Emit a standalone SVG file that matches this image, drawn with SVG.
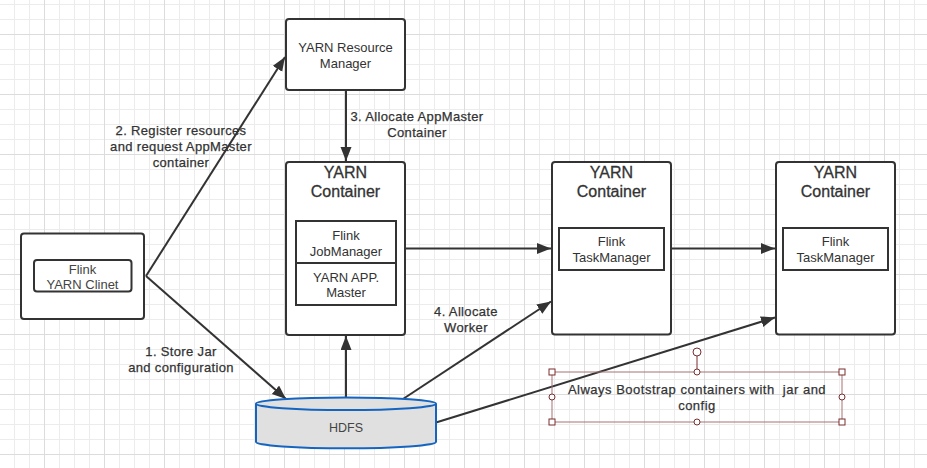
<svg xmlns="http://www.w3.org/2000/svg" width="927" height="468" viewBox="0 0 927 468">
<style>
.box{fill:#fff;stroke:#333;stroke-width:2}
.inner{fill:#fff;stroke:#333;stroke-width:2}
.t{font-family:"Liberation Sans",Arial,sans-serif;font-size:13px;fill:#333;text-anchor:middle}
.h{font-family:"Liberation Sans",Arial,sans-serif;font-size:16px;fill:#333;text-anchor:middle;stroke:#333;stroke-width:0.3px}
.lbl{font-family:"Liberation Sans",Arial,sans-serif;font-size:13px;fill:#333;text-anchor:middle;letter-spacing:0.35px;stroke:#333;stroke-width:0.25px}
.edge{stroke:#333;stroke-width:2;fill:none;marker-end:url(#arr)}
.sel{fill:none;stroke:#a67373;stroke-width:1}
.hd{fill:#fff;stroke:#7b2e2e;stroke-width:1}
</style>
<defs>
<pattern id="grid" patternUnits="userSpaceOnUse" x="44" y="34" width="60" height="60">
<path d="M15.5,0V60M30.5,0V60M45.5,0V60M0,15.5H60M0,30.5H60M0,45.5H60" stroke="#ececec" stroke-width="1" fill="none"/>
<path d="M0.5,0V60M0,0.5H60" stroke="#dcdcdc" stroke-width="1" fill="none"/>
</pattern>
<marker id="arr" markerUnits="userSpaceOnUse" markerWidth="15" markerHeight="12" refX="14" refY="5.5" orient="auto">
<path d="M0,0 L14,5.5 L0,11 Z" fill="#333"/>
</marker>
</defs>
<rect width="927" height="468" fill="#fff"/>
<rect width="927" height="468" fill="url(#grid)"/>

<g id="connectors">
<path class="edge" d="M146,276 L285,57"/>
<path class="edge" d="M146,276 L286,399"/>
<path class="edge" d="M346,90 L346,161"/>
<path class="edge" d="M346,398 L346,336"/>
<path class="edge" d="M405,248.5 L551,248.5"/>
<path class="edge" d="M671,248.5 L775,248.5"/>
<path class="edge" d="M403,399 L551,301.5"/>
<path class="edge" d="M436,422.5 L775,317.5"/>
<text class="lbl" x="181" y="135">2. Register resources</text>
<text class="lbl" x="181" y="151">and request AppMaster</text>
<text class="lbl" x="181" y="167">container</text>
<text class="lbl" x="417" y="120.5">3. Allocate AppMaster</text>
<text class="lbl" x="417" y="137">Container</text>
<text class="lbl" x="181" y="356">1. Store Jar</text>
<text class="lbl" x="181" y="372">and configuration</text>
<text class="lbl" x="466" y="316">4. Allocate</text>
<text class="lbl" x="466" y="332">Worker</text>
</g>

<g id="resource-manager">
<rect class="box" x="286" y="19" width="119" height="71" rx="3"/>
<text class="t" x="345.5" y="52">YARN Resource</text>
<text class="t" x="345.5" y="68">Manager</text>
</g>

<g id="container-am">
<rect class="box" x="286" y="162" width="119" height="173" rx="3"/>
<text class="h" x="345.5" y="177.5">YARN</text>
<text class="h" x="345.5" y="197">Container</text>
<rect class="inner" x="296" y="221" width="100" height="42"/>
<text class="t" x="346" y="239.5">Flink</text>
<text class="t" x="346" y="255.5">JobManager</text>
<rect class="inner" x="296" y="263" width="100" height="42"/>
<text class="t" x="346" y="281.5">YARN APP.</text>
<text class="t" x="346" y="297">Master</text>
</g>

<g id="container-tm1">
<rect class="box" x="552" y="162" width="119" height="172.5" rx="3"/>
<text class="h" x="611.5" y="177.5">YARN</text>
<text class="h" x="611.5" y="197">Container</text>
<rect class="inner" x="559" y="228" width="105" height="42"/>
<text class="t" x="611.5" y="246">Flink</text>
<text class="t" x="611.5" y="261.5">TaskManager</text>
</g>

<g id="container-tm2">
<rect class="box" x="776" y="162" width="119" height="172.5" rx="3"/>
<text class="h" x="835.5" y="177.5">YARN</text>
<text class="h" x="835.5" y="197">Container</text>
<rect class="inner" x="783" y="228" width="105" height="42"/>
<text class="t" x="835.5" y="246">Flink</text>
<text class="t" x="835.5" y="261.5">TaskManager</text>
</g>

<g id="client">
<rect class="box" x="21" y="233.5" width="123" height="85.5" rx="3"/>
<rect class="inner" x="34" y="260" width="97.5" height="31.5" rx="3"/>
<text class="t" x="82.5" y="273.5" style="fill:#444">Flink</text>
<text class="t" x="82.5" y="289" style="fill:#444">YARN Clinet</text>
</g>

<g id="hdfs">
<path d="M256,403.7 V442 A90,6.3 0 0 0 436,442 V403.7" fill="#e0e0e0" stroke="#1565c0" stroke-width="2"/>
<ellipse cx="346" cy="403.7" rx="90" ry="6.3" fill="#e0e0e0" stroke="#1565c0" stroke-width="2"/>
<text class="t" x="346" y="432" style="fill:#444;font-size:12.5px">HDFS</text>
</g>

<g id="note">
<rect class="sel" x="552" y="372" width="290" height="50"/>
<line x1="697" y1="356" x2="697" y2="372" stroke="#7b2e2e" stroke-width="1"/>
<circle class="hd" cx="697" cy="352" r="4"/>
<rect class="hd" x="549" y="369" width="6" height="6"/>
<rect class="hd" x="839" y="369" width="6" height="6"/>
<rect class="hd" x="549" y="419" width="6" height="6"/>
<rect class="hd" x="839" y="419" width="6" height="6"/>
<circle class="hd" cx="697" cy="372" r="3"/>
<circle class="hd" cx="697" cy="422" r="3"/>
<circle class="hd" cx="552" cy="397" r="3"/>
<circle class="hd" cx="842" cy="397" r="3"/>
<text class="lbl" x="697" y="394" xml:space="preserve" style="letter-spacing:0.5px">Always Bootstrap containers with  jar and</text>
<text class="lbl" x="697" y="410" style="letter-spacing:0.5px">config</text>
</g>
</svg>
